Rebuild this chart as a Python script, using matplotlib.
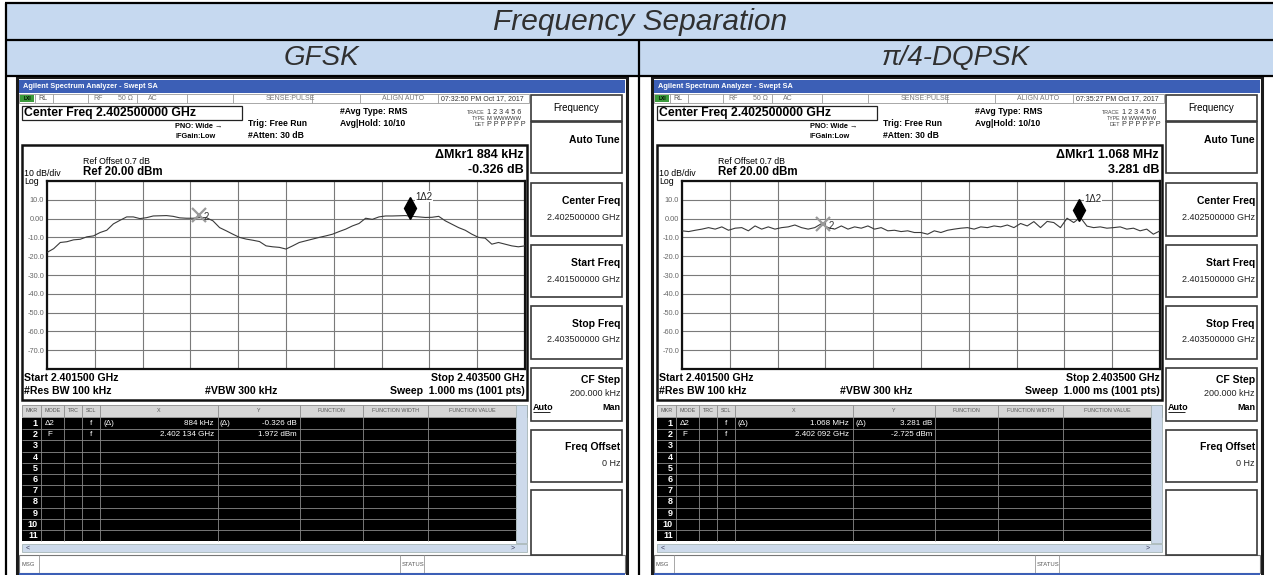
import numpy as np
import matplotlib.pyplot as plt
from matplotlib.patches import Rectangle
from matplotlib.transforms import offset_copy

plt.rcParams['font.family'] = ['Liberation Sans', 'DejaVu Sans']

W, H = 1273, 575

# trace readings (dBm), evenly spread over the span
gfsk_db = [-18.0, -16.0, -12.7, -12.3, -11.3, -11.0, -9.7, -9.2, -7.4, -6.2,
           -2.8, -0.9, 0.9, 0.9, 0.0, 0.5, 1.4, 1.5, 1.6, 1.2,
           0.4, 0.2, 0.2, 0.5, 0.5, -1.2, -4.8, -6.5, -8.3, -10.0,
           -10.9, -11.5, -12.2, -14.5, -15.0, -15.3, -16.2, -14.5, -12.7, -11.8,
           -10.9, -10.0, -9.2, -8.3, -6.9, -5.6, -3.9, -2.6, 0.2, -0.4,
           0.9, 1.4, 1.4, 1.5, 1.6, 1.2, 0.9, 0.6, 0.7, 1.2,
           -1.2, -3.0, -4.8, -6.2, -8.3, -10.0, -10.4, -13.6, -12.7, -13.6,
           -14.5, -15.0, -14.5]
dqpsk_db = [-6.5, -6.9, -6.2, -5.6, -4.8, -5.6, -4.4, -6.2, -5.1, -4.8,
            -6.5, -3.9, -5.6, -4.4, -5.6, -4.8, -4.4, -3.4, -4.8, -5.6,
            -4.8, -2.7, -4.8, -5.6, -3.9, -5.6, -4.4, -5.1, -3.9, -5.6,
            -4.8, -6.5, -6.2, -6.9, -6.5, -7.4, -7.4, -8.3, -6.5, -7.4,
            -6.2, -5.6, -5.1, -4.8, -5.6, -4.4, -4.8, -3.9, -4.4, -3.4,
            -4.8, -2.6, -3.9, -1.6, -4.8, -1.5, -2.1, -4.8, 0.2, -2.1,
            0.6, -4.0, -4.8, -4.4, -5.1, -4.8, -4.4, -5.6, -5.1, -6.5,
            -5.6, -8.3, -6.5]

start_mhz, stop_mhz = 2401.5, 2403.5
ref_level, db_div = 20.0, 10.0

# marker 2 (freq MHz, level dBm) and marker 1 delta (MHz, dB)
gfsk_mkr2 = (2402.134, 1.972)
gfsk_delta = (0.884, -0.326)
dqpsk_mkr2 = (2402.092, -2.725)
dqpsk_delta = (1.068, 3.281)

title = "Frequency Separation"
headers = ["GFSK", "π/4-DQPSK"]
stamps = ["07:32:50 PM Oct 17, 2017", "07:35:27 PM Oct 17, 2017"]
mkr_readout = [("884 kHz", "-0.326 dB"), ("1.068 MHz", "3.281 dB")]
mkr2_readout = [("2.402 134 GHz", "1.972 dBm"), ("2.402 092 GHz", "-2.725 dBm")]

NARROW = ['Liberation Sans Narrow', 'Liberation Sans', 'DejaVu Sans']

fig = plt.figure(figsize=(W / 100, H / 100), dpi=100)
ax0 = fig.add_axes([0, 0, 1, 1])
ax0.set_xlim(0, W)
ax0.set_ylim(H, 0)
ax0.axis('off')


def rect(x, y, w, h, fc='none', ec='none', lw=1.0, z=1):
    ax0.add_patch(Rectangle((x, y), w, h, facecolor=fc, edgecolor=ec, linewidth=lw, zorder=z))


def line(x0, y0, x1, y1, c='black', lw=1.0, z=2):
    ax0.plot([x0, x1], [y0, y1], color=c, lw=lw, zorder=z, solid_capstyle='butt')


def txt(x, y, s, size, ha='left', weight='normal', color='black', narrow=True, z=5, **kw):
    ax0.text(x, y, s, fontsize=size, ha=ha, va='center', fontweight=weight, color=color,
             family=NARROW if narrow else None, zorder=z, **kw)


# outer table
blue = '#c6d9f0'
rect(5, 3, 1275, 37, fc=blue, ec='none')
rect(5, 40, 1275, 36, fc=blue, ec='none')
line(5, 3, 1273, 3, lw=1.6)
line(5, 40, 1273, 40, lw=1.6)
line(5, 76, 1273, 76, lw=1.6)
line(5.5, 3, 5.5, H, lw=1.6)
line(639, 40, 639, H, lw=1.6)
txt(640, 22, title, 21.5, ha='center', color='#303030', narrow=False, style='italic')
txt(321, 58, headers[0], 20, ha='center', color='#303030', narrow=False, style='italic')
txt(956, 58, headers[1], 20, ha='center', color='#303030', narrow=False, style='italic')


def softkey(dx, y0, y1, label, value=None, dl=18, dv=34):
    rect(dx + 531, y0, 91, y1 - y0, fc='white', ec='#3a3a3a', lw=1.2, z=2)
    if label:
        txt(dx + 620, y0 + dl, label, 7.5, ha='right', weight='bold')
    if value:
        txt(dx + 620, y0 + dv, value, 6.5, ha='right', color='#222')


def draw_screen(i, dx, db_vals, mkr2, delta):
    # frame and title bar
    rect(dx + 17, 77, 610, 505, fc='white', ec='#1a1a1a', lw=2.2)
    rect(dx + 19, 80, 606, 13, fc='#3c5fb6', z=2)
    txt(dx + 23, 86.5, 'Agilent Spectrum Analyzer - Swept SA', 5.3, color='white', weight='bold')
    # status row
    rect(dx + 19, 94, 510, 9, fc='white', ec='#9a9a9a', lw=0.6, z=2)
    for xs in [35, 53, 88, 137, 187, 233, 312, 360, 438]:
        line(dx + xs, 94, dx + xs, 103, c='#9a9a9a', lw=0.6, z=3)
    rect(dx + 20, 95, 14, 7, fc='#3a9a3a', z=3)
    txt(dx + 27, 98.5, 'LXI', 3.5, ha='center', weight='bold', color='black')
    txt(dx + 38, 98.5, 'RL', 5, color='#555')
    txt(dx + 93, 98.5, 'RF', 5, color='#777')
    txt(dx + 118, 98.5, '50 Ω', 5, color='#777')
    txt(dx + 148, 98.5, 'AC', 5, color='#777')
    txt(dx + 290, 98.5, 'SENSE:PULSE', 5, ha='center', color='#777')
    txt(dx + 403, 98.5, 'ALIGN AUTO', 5, ha='center', color='#777')
    txt(dx + 482, 98.5, stamps[i], 5, ha='center', color='#333')
    # centre frequency line and settings
    rect(dx + 22, 106, 220, 14, fc='white', ec='#222', lw=0.9, z=2)
    txt(dx + 24, 113, 'Center Freq 2.402500000 GHz', 8.8, weight='bold')
    txt(dx + 175, 126, 'PNO: Wide →', 5.3, weight='bold')
    txt(dx + 175, 137, 'IFGain:Low', 5.3, weight='bold')
    txt(dx + 248, 124, 'Trig: Free Run', 6.2, weight='bold')
    txt(dx + 248, 135, '#Atten: 30 dB', 6.2, weight='bold')
    txt(dx + 340, 112, '#Avg Type: RMS', 6.2, weight='bold')
    txt(dx + 340, 123, 'Avg|Hold: 10/10', 6.2, weight='bold')
    txt(dx + 485, 112, 'TRACE', 3.8, ha='right', color='#444')
    txt(dx + 487, 112, '1 2 3 4 5 6', 5.2, color='#333')
    txt(dx + 485, 118, 'TYPE', 3.8, ha='right', color='#444')
    txt(dx + 487, 118, 'M WWWWW', 4.2, color='#333')
    txt(dx + 485, 124, 'DET', 3.8, ha='right', color='#444')
    txt(dx + 487, 124, 'P P P P P P', 5.2, color='#333')

    # graph box
    rect(dx + 22, 145, 505, 255, fc='white', ec='#111', lw=1.8, z=2)
    txt(dx + 83, 161, 'Ref Offset 0.7 dB', 6.3)
    txt(dx + 24, 173, '10 dB/div', 6.3)
    txt(dx + 83, 172, 'Ref 20.00 dBm', 8.3, weight='bold')
    txt(dx + 24, 182, 'Log', 6.3)
    txt(dx + 524, 155, 'ΔMkr1 ' + mkr_readout[i][0], 9, ha='right', weight='bold')
    txt(dx + 524, 170, mkr_readout[i][1], 9, ha='right', weight='bold')
    txt(dx + 24, 378, 'Start 2.401500 GHz', 7.6, weight='bold')
    txt(dx + 525, 378, 'Stop 2.403500 GHz', 7.6, ha='right', weight='bold')
    txt(dx + 24, 391, '#Res BW 100 kHz', 7.6, weight='bold')
    txt(dx + 205, 391, '#VBW 300 kHz', 7.6, weight='bold')
    txt(dx + 525, 391, 'Sweep  1.000 ms (1001 pts)', 7.6, ha='right', weight='bold')

    # spectrum axes
    x0, x1, y0, y1 = dx + 47, dx + 525, 181, 369
    ax = fig.add_axes([x0 / W, 1 - y1 / H, (x1 - x0) / W, (y1 - y0) / H])
    freqs = np.linspace(start_mhz, stop_mhz, len(db_vals))
    ax.plot(freqs, db_vals, color='#3a3a3a', lw=0.8, zorder=3)
    ax.set_xlim(start_mhz, stop_mhz)
    ax.set_ylim(ref_level - 10 * db_div, ref_level)
    ax.set_xticks(np.linspace(start_mhz, stop_mhz, 11))
    ax.set_xticklabels([])
    levels = np.arange(ref_level - 10 * db_div, ref_level + 1, db_div)
    ax.set_yticks(levels)
    ax.set_yticklabels(['' if v in (ref_level, ref_level - 10 * db_div) else
                        ('0.00' if v == 0 else f'{v:.1f}') for v in levels])
    ax.tick_params(length=0, labelsize=5.3, labelcolor='#666', pad=2)
    ax.grid(True, color='#7a7a7a', lw=0.8)
    ax.set_axisbelow(True)
    for s in ax.spines.values():
        s.set_linewidth(1.6)
        s.set_color('#111')
    # markers
    f2, l2 = mkr2
    f1, l1 = f2 + delta[0], mkr2[1] + delta[1]
    ax.plot(f2, l2, marker='x', ms=10, mew=1.6, color='#9a9a9a', zorder=4)
    ax.annotate('2', (f2, l2), xytext=(5, -5), textcoords='offset pixels', fontsize=7,
                color='#333', zorder=5)
    up = offset_copy(ax.transData, fig=fig, x=0, y=8, units='dots')
    ax.plot(f1, l1, marker='d', ms=11, color='black', transform=up, zorder=5)
    ax.annotate('1Δ2', (f1, l1), xytext=(6, 16), textcoords='offset pixels', fontsize=7,
                color='#222', zorder=5, bbox=dict(fc='white', ec='none', pad=0.3))

    # marker table
    cols = [22, 41, 64, 82, 100, 218, 300, 363, 428, 516]
    heads = ['MKR', 'MODE', 'TRC', 'SCL', 'X', 'Y', 'FUNCTION', 'FUNCTION WIDTH', 'FUNCTION VALUE']
    rect(dx + 22, 405, 505, 12, fc='#d6d6d6', ec='#888', lw=0.6, z=2)
    for k, hd in enumerate(heads):
        txt(dx + (cols[k] + cols[k + 1]) / 2, 411, hd, 3.9, ha='center', color='#555')
    row_top, row_h = 418, 11.2
    rect(dx + 22, row_top, 494, 11 * row_h, fc='black', z=2)
    for r in range(1, 11):
        line(dx + 22, row_top + r * row_h, dx + 516, row_top + r * row_h, c='#8a8a8a', lw=0.6, z=3)
    for c in cols[1:-1]:
        line(dx + c, 405, dx + c, row_top + 11 * row_h, c='#8a8a8a', lw=0.6, z=3)
    for r in range(11):
        txt(dx + 38, row_top + (r + 0.5) * row_h, str(r + 1), 6.5, ha='right', weight='bold',
            color='white')
    yr1, yr2 = row_top + 0.5 * row_h, row_top + 1.5 * row_h
    txt(dx + 45, yr1, 'Δ2', 5.8, color='white')
    txt(dx + 90, yr1, 'f', 5.8, color='white')
    txt(dx + 103, yr1, '(Δ)', 5.8, color='white')
    txt(dx + 214, yr1, mkr_readout[i][0], 5.8, ha='right', color='white')
    txt(dx + 220, yr1, '(Δ)', 5.8, color='white')
    txt(dx + 297, yr1, mkr_readout[i][1], 5.8, ha='right', color='white')
    txt(dx + 47, yr2, 'F', 5.8, color='white')
    txt(dx + 90, yr2, 'f', 5.8, color='white')
    txt(dx + 214, yr2, mkr2_readout[i][0], 5.8, ha='right', color='white')
    txt(dx + 297, yr2, mkr2_readout[i][1], 5.8, ha='right', color='white')
    # scroll bars
    rect(dx + 516, 405, 11, 138, fc='#cddaeb', ec='#9aa', lw=0.5, z=2)
    rect(dx + 22, 544, 505, 8, fc='#cddaeb', ec='#9aa', lw=0.5, z=2)
    txt(dx + 26, 548, '<', 5, color='#335')
    txt(dx + 515, 548, '>', 5, ha='right', color='#335')
    # message bar
    rect(dx + 19, 555, 606, 18, fc='white', ec='#777', lw=0.8, z=2)
    line(dx + 39, 555, dx + 39, 573, c='#999', lw=0.6, z=3)
    line(dx + 400, 555, dx + 400, 573, c='#999', lw=0.6, z=3)
    line(dx + 424, 555, dx + 424, 573, c='#999', lw=0.6, z=3)
    txt(dx + 21, 564, 'MSG', 4.2, color='#555')
    txt(dx + 402, 564, 'STATUS', 4.2, color='#555')
    rect(dx + 19, 573, 606, 3, fc='#3c5fb6', z=3)

    # softkeys
    rect(dx + 531, 95, 91, 26, fc='white', ec='#3a3a3a', lw=1.2, z=2)
    txt(dx + 576, 108, 'Frequency', 7, ha='center')
    softkey(dx, 122, 173, 'Auto Tune')
    softkey(dx, 183, 236, 'Center Freq', '2.402500000 GHz')
    softkey(dx, 245, 297, 'Start Freq', '2.401500000 GHz')
    softkey(dx, 306, 359, 'Stop Freq', '2.403500000 GHz')
    softkey(dx, 368, 421, 'CF Step', '200.000 kHz', dl=12, dv=25)
    txt(dx + 533, 407, 'Auto', 6.5, weight='bold')
    line(dx + 533, 411.5, dx + 550, 411.5, lw=0.6, z=6)
    txt(dx + 620, 407, 'Man', 6.5, ha='right', weight='bold')
    softkey(dx, 430, 482, 'Freq Offset', '0 Hz', dl=17, dv=34)
    rect(dx + 531, 490, 91, 65, fc='white', ec='#3a3a3a', lw=1.2, z=2)


draw_screen(0, 0, gfsk_db, gfsk_mkr2, gfsk_delta)
draw_screen(1, 635, dqpsk_db, dqpsk_mkr2, dqpsk_delta)

fig.savefig('out.png', dpi=100)
